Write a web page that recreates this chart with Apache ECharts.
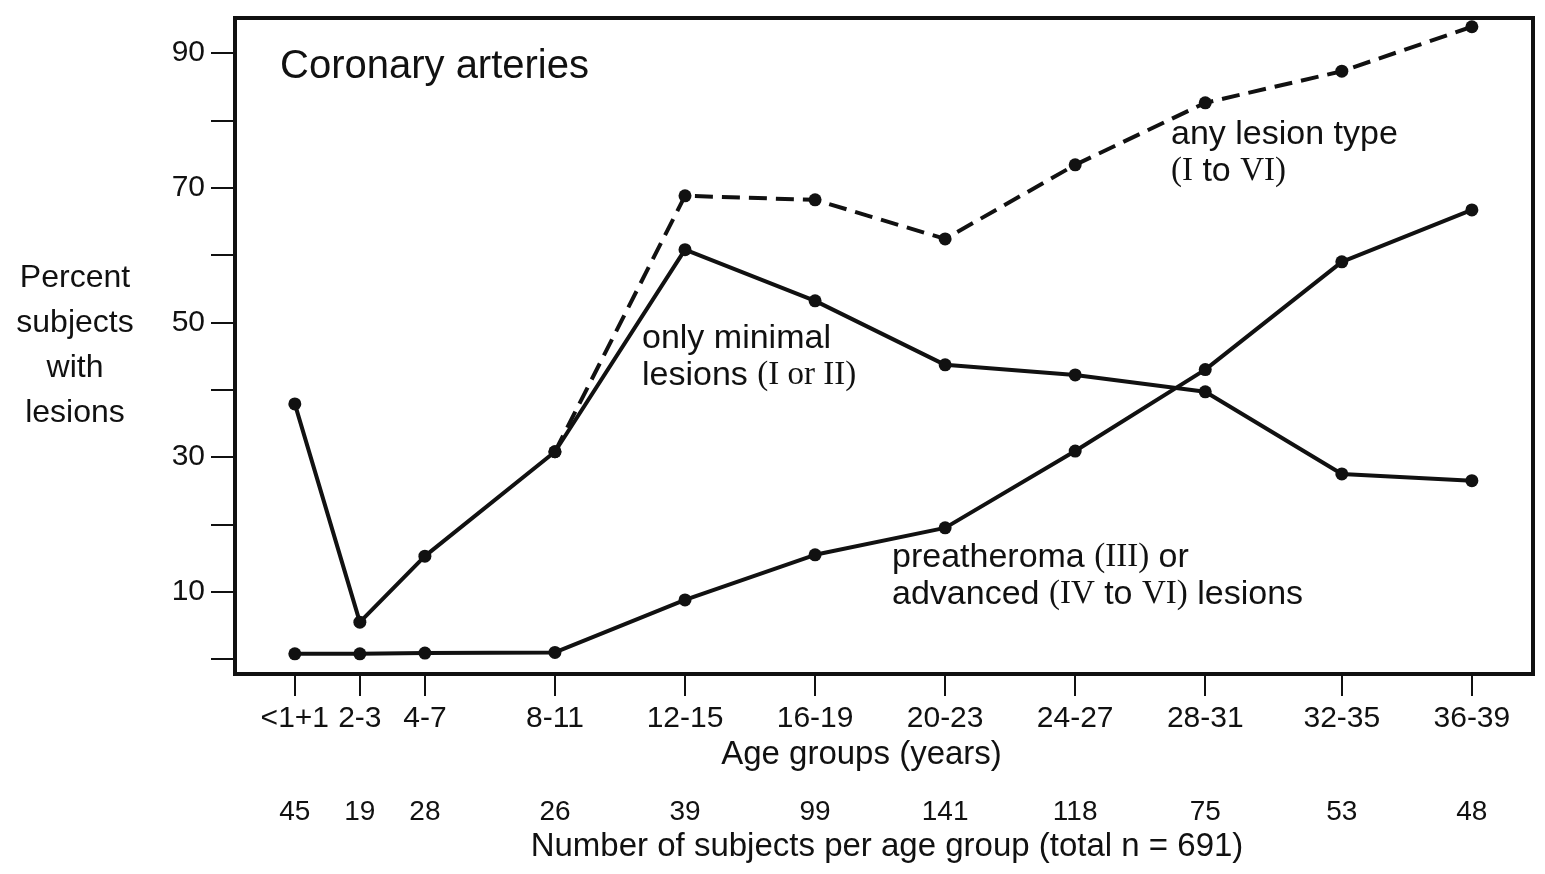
<!DOCTYPE html>
<html><head><meta charset="utf-8">
<script src="https://cdn.jsdelivr.net/npm/echarts@6/dist/echarts.min.js"></script>
<style>html,body{margin:0;padding:0;background:#fff}#c{width:1545px;height:874px}</style>
</head><body><div id="c"></div>
<script>
const ageGroups = ['<1+1','2-3','4-7','8-11','12-15','16-19','20-23','24-27','28-31','32-35','36-39'];
const groupPositions = [0, 0.5, 1, 2, 3, 4, 5, 6, 7, 8.05, 9.05];
const subjectCounts = [45, 19, 28, 26, 39, 99, 141, 118, 75, 53, 48];
const minimalLesions = [37.9, 5.5, 15.3, 30.8, 60.8, 53.2, 43.7, 42.2, 39.7, 27.5, 26.5];
const advancedLesions = [0.8, 0.8, 0.9, 1.0, 8.8, 15.5, 19.5, 30.9, 43.0, 59.0, 66.7];
const anyLesion = [null, null, null, 30.8, 68.8, 68.2, 62.4, 73.4, 82.6, 87.3, 93.9];
const yTickValues = [0, 10, 20, 30, 40, 50, 60, 70, 80, 90];
const yLabelValues = [10, 30, 50, 70, 90];

const F = "'Liberation Sans', Arial, sans-serif";
const SERIF = "'Liberation Serif', serif";
const black = '#111';

function pairs(vals){ return groupPositions.map((x, i) => [x, vals[i]]); }
function nearestIdx(v){ let b = 0; groupPositions.forEach((p, i) => { if (Math.abs(p - v) < Math.abs(groupPositions[b] - v)) b = i; }); return b; }

const chart = echarts.init(document.getElementById('c'), null, {renderer: 'canvas'});
const lineBase = {type: 'line', symbol: 'circle', symbolSize: 13, itemStyle: {color: black}, animation: false};
const annSize = 34, serSize = 33;
function ann(text, x, y){
  return {type: 'text', x: x, y: y, z: 10, style: {text: text, fill: black, fontSize: annSize, fontFamily: F, lineHeight: 37, verticalAlign: 'top',
    rich: {r: {fontFamily: SERIF, fontSize: serSize, fill: black, lineHeight: 37}}}};
}
chart.setOption({
  backgroundColor: '#fff',
  animation: false,
  title: {text: 'Coronary arteries', left: 280, top: 45, padding: 0,
    textStyle: {fontFamily: F, fontSize: 40, fontWeight: 'normal', color: black, lineHeight: 44}},
  grid: {left: 235, right: 12, top: 18, bottom: 200, show: true, borderColor: black, borderWidth: 4, backgroundColor: 'transparent'},
  xAxis: [{
    type: 'value', min: -0.46, max: 9.52,
    axisLine: {show: true, onZero: false, lineStyle: {color: black, width: 4}},
    axisTick: {show: true, customValues: groupPositions, length: 22, lineStyle: {color: black, width: 2}},
    axisLabel: {customValues: groupPositions, formatter: v => ageGroups[nearestIdx(v)], fontFamily: F, fontSize: 30, color: black, margin: 30},
    splitLine: {show: false},
    name: 'Age groups (years)', nameLocation: 'middle', nameGap: 59,
    nameTextStyle: {fontFamily: F, fontSize: 33, color: black, padding: [0, 45, 0, 0]}
  }, {
    type: 'value', min: -0.46, max: 9.52, position: 'bottom', gridIndex: 0,
    axisLine: {show: false}, axisTick: {show: false}, splitLine: {show: false},
    axisLabel: {customValues: groupPositions, formatter: v => String(subjectCounts[nearestIdx(v)]), fontFamily: F, fontSize: 28, color: black, margin: 124},
    name: 'Number of subjects per age group (total n = 691)', nameLocation: 'middle', nameGap: 153,
    nameTextStyle: {fontFamily: F, fontSize: 33, color: black, padding: [0, 0, 0, 6]}
  }],
  yAxis: {
    type: 'value', min: -2.2, max: 95.2,
    axisLine: {show: true, onZero: false, lineStyle: {color: black, width: 4}},
    axisTick: {show: true, customValues: yTickValues, length: 24, lineStyle: {color: black, width: 2}},
    axisLabel: {customValues: yLabelValues, fontFamily: F, fontSize: 30, color: black, margin: 30},
    splitLine: {show: false},
    name: 'Percent\nsubjects\nwith\nlesions', nameLocation: 'middle', nameRotate: 0, nameGap: 160,
    nameTextStyle: {fontFamily: F, fontSize: 32, color: black, lineHeight: 45, align: 'center', verticalAlign: 'middle', padding: [0, 0, 18, 0]}
  },
  series: [
    Object.assign({}, lineBase, {name: 'only minimal lesions (I or II)', data: pairs(minimalLesions), lineStyle: {color: black, width: 4}, z: 3}),
    Object.assign({}, lineBase, {name: 'preatheroma (III) or advanced (IV to VI) lesions', data: pairs(advancedLesions), lineStyle: {color: black, width: 4}, z: 3}),
    Object.assign({}, lineBase, {name: 'any lesion type (I to VI)', data: pairs(anyLesion), connectNulls: false, lineStyle: {color: black, width: 4, type: [18, 9]}, z: 2})
  ],
  graphic: [
    ann('any lesion type\n{r|(I} to {r|VI)}', 1171, 116),
    ann('only minimal\nlesions {r|(I or II)}', 642, 320),
    ann('preatheroma {r|(III)} or\nadvanced {r|(IV} to {r|VI)} lesions', 892, 539)
  ]
});
</script></body></html>
